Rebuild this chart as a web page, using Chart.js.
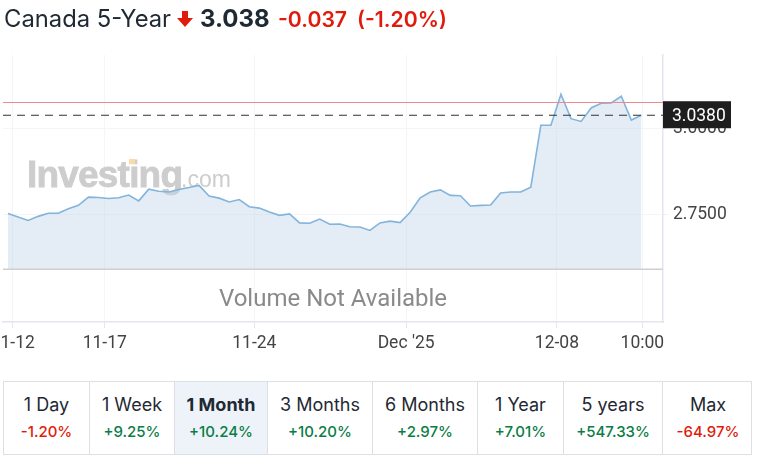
<!DOCTYPE html>
<html>
<head>
<meta charset="utf-8">
<script src="https://cdn.jsdelivr.net/npm/chart.js@4"></script>
<style>
    html, body { margin: 0; padding: 0; background: #fff; width: 760px; height: 463px; overflow: hidden; }
    body { position: relative; font-family: Inter, sans-serif; color: #1f2933; }
    canvas { position: absolute; left: 0; top: 0; }
    .head { position: absolute; left: 4px; top: 2px; height: 34px; line-height: 34px; white-space: nowrap; }
    .head span, .head svg { position: absolute; top: 0; }
    .name { left: 0; font-size: 23.8px; }
    .arrow { left: 173px; top: 9px !important; }
    .last { left: 196px; font-size: 24px; font-weight: 700; }
    .chg { left: 274px; font-size: 21.2px; font-weight: 600; color: #e01b0c; }
    .pct { left: 353px; font-size: 21.2px; font-weight: 600; color: #e01b0c; }
    .perf {
        position: absolute; left: 3px; top: 381px; width: 749px; height: 74px; box-sizing: border-box;
        display: grid; grid-template-columns: 86px 85px 93px 105px 105px 86px 99px 90px;
        border: 1.5px solid #dcdfe3;
    }
    .cell { border-right: 1.5px solid #dcdfe3; text-align: center; box-sizing: border-box; }
    .cell:last-child { border-right: 0; }
    .cell.on { background: #edf3f9; }
    .cell.on .period { font-weight: 700; }
    .period { font-size: 18px; line-height: 20px; margin-top: 13px; }
    .change { font-size: 15px; font-weight: 500; line-height: 18px; margin-top: 8px; }
    .up { color: #0a7d46; }
    .down { color: #e01b0c; }
</style>
</head>
<body>
<canvas id="chart" width="760" height="370"></canvas>
<div class="head">
    <span class="name">Canada 5-Year</span>
    <svg class="arrow" width="16" height="16" viewBox="0 0 16 16"><path d="M5 0h6v7h5L8 16 0 7h5z" fill="#e01b0c"/></svg>
    <span class="last">3.038</span>
    <span class="chg">-0.037</span>
    <span class="pct">(-1.20%)</span>
</div>
<div class="perf" id="perf"></div>
<script>
const prices = [
    2.752, 2.742, 2.732, 2.744, 2.753, 2.753, 2.766, 2.776, 2.800, 2.799, 2.796,
    2.798, 2.806, 2.789, 2.823, 2.817, 2.815, 2.822, 2.828, 2.834, 2.803, 2.797,
    2.786, 2.793, 2.772, 2.768, 2.757, 2.747, 2.751, 2.725, 2.724, 2.736, 2.721,
    2.722, 2.714, 2.713, 2.703, 2.725, 2.730, 2.726, 2.756, 2.798, 2.815, 2.821,
    2.805, 2.804, 2.774, 2.776, 2.777, 2.812, 2.815, 2.815, 2.829, 3.009, 3.009,
    3.099, 3.028, 3.020, 3.059, 3.073, 3.074, 3.093, 3.024, 3.038
];
const tickSpots = [0.47, 9.62, 24.5, 39.6, 54.6, 63.1];
const tickLabels = ['11-12', '11-17', '11-24', "Dec '25", '12-08', '10:00'];
const priceTicks = [2.75, 3.0];
const prevClose = 3.075;
const lastPrice = 3.038;
const panelFloor = 2.59;

const periods = ['1 Day', '1 Week', '1 Month', '3 Months', '6 Months', '1 Year', '5 years', 'Max'];
const changes = ['-1.20%', '+9.25%', '+10.24%', '+10.20%', '+2.97%', '+7.01%', '+547.33%', '-64.97%'];
const activePeriod = '1 Month';

const xMin = -0.5, xMax = 65.15;

const perf = document.getElementById('perf');
periods.forEach((p, i) => {
    const cell = document.createElement('div');
    cell.className = 'cell' + (p === activePeriod ? ' on' : '');
    const dir = changes[i][0] === '-' ? 'down' : 'up';
    cell.innerHTML = `<div class="period">${p}</div><div class="change ${dir}">${changes[i]}</div>`;
    perf.appendChild(cell);
});

// logo and the "no volume" note sit under the line
const backdrop = {
    id: 'backdrop',
    beforeDatasetsDraw(chart) {
        const ctx = chart.ctx;
        ctx.save();
        ctx.fillStyle = '#cdcdcd';
        ctx.strokeStyle = '#cdcdcd';
        ctx.lineWidth = 0.8;
        ctx.textBaseline = 'alphabetic';
        ctx.textAlign = 'left';
        ctx.font = 'bold 37px "Liberation Sans"';
        ctx.letterSpacing = '-0.8px';
        ctx.fillText('Investing', 27, 187);
        ctx.strokeText('Investing', 27, 187);
        ctx.letterSpacing = '0px';
        ctx.font = '23px "Liberation Sans"';
        ctx.fillText('.com', 181, 187);
        ctx.fillStyle = '#fbdca8';
        ctx.fillRect(129, 159, 6, 5);
        ctx.fillStyle = '#8a8a8a';
        ctx.textAlign = 'center';
        ctx.font = '24px Roboto';
        ctx.fillText('Volume Not Available', 333, 306);
        ctx.restore();
    }
};

// last price flag on the axis
const priceFlag = {
    id: 'priceFlag',
    afterDraw(chart) {
        const ctx = chart.ctx;
        const y = chart.scales.y.getPixelForValue(lastPrice);
        ctx.save();
        ctx.fillStyle = '#1e1e1e';
        ctx.fillRect(663, y - 14, 68, 27);
        ctx.fillStyle = '#fff';
        ctx.font = '17.5px Roboto';
        ctx.textBaseline = 'middle';
        ctx.textAlign = 'left';
        ctx.fillText(lastPrice.toFixed(4), 672, y + 1);
        // last label gets cut at the axis end
        ctx.clearRect(664, 325, 40, 45);
        ctx.restore();
    }
};

new Chart(document.getElementById('chart').getContext('2d'), {
    type: 'line',
    data: {
        datasets: [
            {
                data: prices.map((v, i) => ({ x: i, y: v })),
                borderColor: '#82b4dc',
                borderWidth: 1.6,
                backgroundColor: 'rgba(196,215,233,0.45)',
                fill: { value: panelFloor },
                pointRadius: 0,
                tension: 0,
                order: 3
            },
            {
                data: [{ x: xMin, y: prevClose }, { x: xMax, y: prevClose }],
                borderColor: '#f08a8a',
                borderWidth: 1,
                pointRadius: 0,
                order: 2
            },
            {
                data: [{ x: xMin, y: lastPrice }, { x: xMax, y: lastPrice }],
                borderColor: '#333',
                borderWidth: 1.2,
                borderDash: [8, 6],
                pointRadius: 0,
                order: 1
            },
            {
                data: [{ x: xMin, y: panelFloor }, { x: xMax, y: panelFloor }],
                borderColor: '#cfcfcf',
                borderWidth: 1.5,
                pointRadius: 0,
                order: 0
            }
        ]
    },
    options: {
        responsive: false,
        animation: false,
        layout: { padding: { left: 3, top: 55, right: 0, bottom: 0 } },
        plugins: { legend: { display: false }, tooltip: { enabled: false } },
        scales: {
            x: {
                type: 'linear',
                min: xMin,
                max: xMax,
                afterBuildTicks(scale) {
                    scale.ticks = tickSpots.map(v => ({ value: v }));
                },
                afterFit(scale) {
                    scale.height = 48;
                    scale.paddingLeft = 0;
                    scale.paddingRight = 0;
                },
                grid: { color: '#f3f5f9', tickColor: '#e3e6ee', tickLength: 6 },
                border: { color: '#e3e6ee', width: 1.5 },
                ticks: {
                    autoSkip: false,
                    maxRotation: 0,
                    padding: 5,
                    color: '#444',
                    font: { family: 'Roboto', size: 17.5 },
                    callback: (v, i) => tickLabels[i]
                }
            },
            y: {
                position: 'right',
                min: 2.4369,
                max: 3.2131,
                afterBuildTicks(scale) {
                    scale.ticks = priceTicks.map(v => ({ value: v }));
                },
                afterFit(scale) {
                    scale.width = 97;
                    scale.paddingTop = 0;
                    scale.paddingBottom = 0;
                },
                grid: { color: '#f3f5f9', tickColor: '#f0f1f4', tickLength: 5 },
                border: { color: '#e3e6ee', width: 1.5 },
                ticks: {
                    padding: 5,
                    color: '#444',
                    font: { family: 'Roboto', size: 17.5 },
                    callback: v => v.toFixed(4)
                }
            }
        }
    },
    plugins: [backdrop, priceFlag]
});
</script>
</body>
</html>
